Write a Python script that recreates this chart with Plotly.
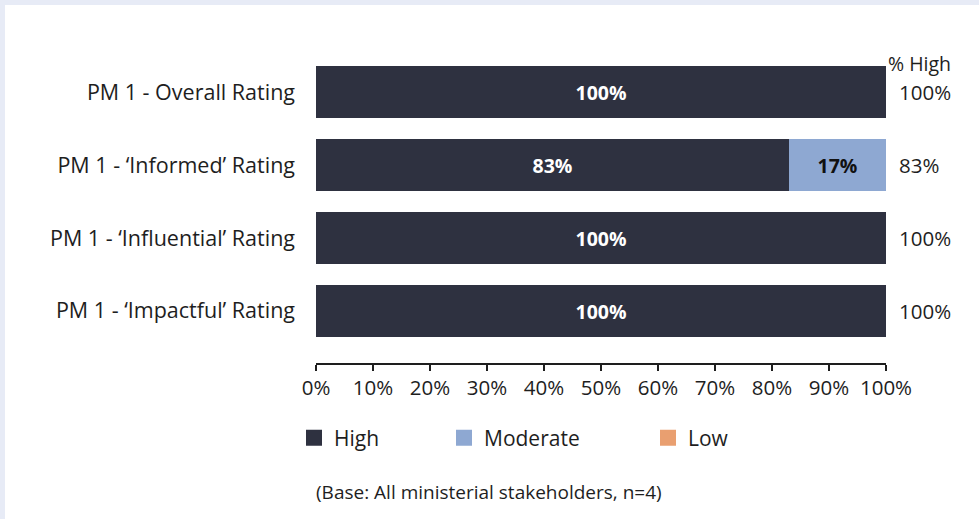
import plotly.graph_objects as go

# Survey results: share of ministerial stakeholders per rating level
categories = [
    "PM 1 - Overall Rating",
    "PM 1 - \u2018Informed\u2019 Rating",
    "PM 1 - \u2018Influential\u2019 Rating",
    "PM 1 - \u2018Impactful\u2019 Rating",
]
high = [100, 83, 100, 100]
moderate = [0, 17, 0, 0]
low = [0, 0, 0, 0]
x_ticks = [0, 10, 20, 30, 40, 50, 60, 70, 80, 90, 100]
x_tick_labels = [f"{v}%" for v in x_ticks]

series = [
    ("High", high, "#2e3140", "white"),
    ("Moderate", moderate, "#8ea8d2", "#111111"),
    ("Low", low, "#e99f70", "#111111"),
]

FONT = "Open Sans"
INK = "#1e1e1e"
W, H = 979, 519
ML, MR, MT, MB = 316, 93, 55, 156
PW, PH = W - ML - MR, H - MT - MB

rows = list(range(len(categories)))

fig = go.Figure()
for i, (name, vals, color, txtcol) in enumerate(series):
    fig.add_trace(go.Bar(
        y=rows, x=vals, orientation="h", name=name,
        marker=dict(color=color, line=dict(width=0)),
        width=0.715,
        text=[f"{v}%" if v > 0 else "" for v in vals],
        textposition="inside", insidetextanchor="middle",
        textfont=dict(family=FONT, size=19.5, color=txtcol, weight="bold"),
        showlegend=False,
        hoverinfo="skip",
    ))
    # legend entries with larger square swatches
    fig.add_trace(go.Scatter(
        x=[None], y=[None], mode="markers", name=name,
        marker=dict(symbol="square", size=16, color=color),
        legend="legend" if i == 0 else f"legend{i + 1}",
        showlegend=True,
    ))

# "% High" column on the right
for r, v in zip(rows, high):
    fig.add_annotation(x=100, y=r, xref="x", yref="y", text=f"{v}%",
                       showarrow=False, xanchor="left", xshift=11,
                       font=dict(family=FONT, size=20.5, color=INK))
fig.add_annotation(x=(953 - ML) / PW, y=1 + (MT - 63) / PH, xref="paper", yref="paper",
                   text="% High", showarrow=False, xanchor="right", yanchor="middle",
                   font=dict(family=FONT, size=19.5, color=INK))
fig.add_annotation(x=(314 - ML) / PW, y=-(492 - (MT + PH)) / PH, xref="paper", yref="paper",
                   text="(Base: All ministerial stakeholders, n=4)", showarrow=False,
                   xanchor="left", yanchor="middle",
                   font=dict(family=FONT, size=19, color=INK))

# white card with a lavender edge on the top and left
fig.add_shape(type="rect", xref="paper", yref="paper", layer="below",
              x0=(5 - ML) / PW, x1=1 + MR / PW + 0.01,
              y0=-MB / PH - 0.01, y1=1 + (MT - 5) / PH,
              fillcolor="white", line=dict(width=0))

legend_y = -(438 - (MT + PH)) / PH
legend_common = dict(orientation="h", yanchor="middle", y=legend_y, xanchor="left",
                     bgcolor="rgba(0,0,0,0)", borderwidth=0,
                     font=dict(family=FONT, size=21, color=INK),
                     itemsizing="trace")
fig.update_layout(
    width=W, height=H,
    margin=dict(l=ML, r=MR, t=MT, b=MB, pad=0),
    paper_bgcolor="#e7ebf6", plot_bgcolor="white",
    barmode="stack", bargap=0,
    legend=dict(x=(294 - ML) / PW, **legend_common),
    legend2=dict(x=(444 - ML) / PW, **legend_common),
    legend3=dict(x=(648 - ML) / PW, **legend_common),
    xaxis=dict(range=[0, 100], tickmode="array", tickvals=x_ticks, ticktext=x_tick_labels,
               showgrid=False, zeroline=False, showline=True, linecolor=INK,
               linewidth=1.5, ticks="outside", ticklen=6, tickwidth=1.5, tickcolor=INK,
               tickfont=dict(family=FONT, size=20.5, color=INK), fixedrange=True),
    yaxis=dict(range=[3.715, -0.51], tickmode="array", tickvals=rows, ticktext=categories,
               showgrid=False, zeroline=False, showline=False, ticks="", ticklabelstandoff=20,
               tickfont=dict(family=FONT, size=21.5, color=INK), fixedrange=True),
    uniformtext=dict(minsize=10, mode="show"),
)

fig.write_html("out.html")
